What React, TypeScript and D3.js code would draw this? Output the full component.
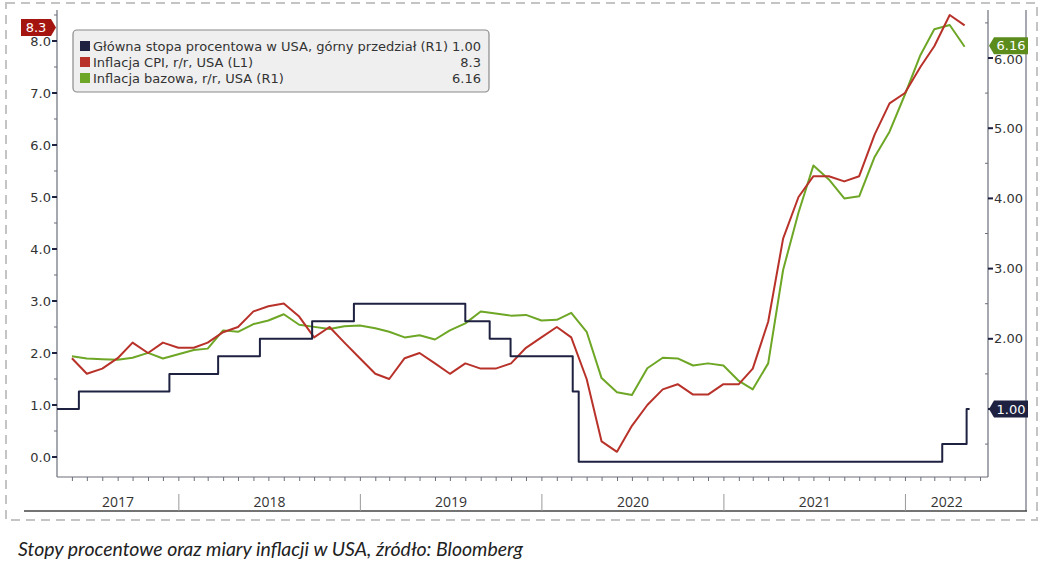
import React from "react";
import * as d3 from "d3";

// ---- Data ----
const monthStart = "2017-05"; // first monthly observation (plotted at month end)
const cpiValues = [
  1.9, 1.6, 1.7, 1.9, 2.2, 2.0, 2.2, 2.1,
  2.1, 2.2, 2.4, 2.5, 2.8, 2.9, 2.95, 2.7, 2.3, 2.5, 2.2, 1.9,
  1.6, 1.5, 1.9, 2.0, 1.8, 1.6, 1.8, 1.7, 1.7, 1.8, 2.1, 2.3,
  2.5, 2.3, 1.5, 0.3, 0.1, 0.6, 1.0, 1.3, 1.4, 1.2, 1.2, 1.4,
  1.4, 1.7, 2.6, 4.2, 5.0, 5.4, 5.4, 5.3, 5.4, 6.2, 6.8, 7.0,
  7.5, 7.9, 8.5, 8.3,
];
const coreValues = [
  1.75, 1.72, 1.71, 1.70, 1.73, 1.80, 1.72, 1.78,
  1.84, 1.86, 2.12, 2.10, 2.21, 2.26, 2.35, 2.20, 2.17, 2.14, 2.18, 2.19,
  2.15, 2.10, 2.02, 2.05, 1.99, 2.12, 2.22, 2.39, 2.36, 2.33, 2.34, 2.26,
  2.27, 2.37, 2.10, 1.44, 1.24, 1.20, 1.58, 1.73, 1.72, 1.62, 1.65, 1.62,
  1.40, 1.28, 1.65, 2.98, 3.80, 4.47, 4.27, 4.00, 4.03, 4.59, 4.95, 5.48,
  6.04, 6.41, 6.47, 6.16,
];
const fedDates = [
  "2017-05-01", "2017-06-14", "2017-12-13", "2018-03-21", "2018-06-13",
  "2018-09-26", "2018-12-19", "2019-07-31", "2019-09-18", "2019-10-30",
  "2020-03-03", "2020-03-15", "2022-03-16", "2022-05-04", "2022-05-10",
];
const fedValues = [
  1.0, 1.25, 1.5, 1.75, 2.0, 2.25, 2.5, 2.25, 2.0, 1.75, 1.25, 0.25, 0.5, 1.0, 1.0,
];
const leftTicks = [0, 1, 2, 3, 4, 5, 6, 7, 8];
const leftMinor = [0.5, 1.5, 2.5, 3.5, 4.5, 5.5, 6.5, 7.5, 8.5];
const rightTicks = [1, 2, 3, 4, 5, 6];
const rightLabelled = [2, 3, 4, 5, 6];
const rightMinor = [0.5, 1.5, 2.5, 3.5, 4.5, 5.5, 6.5];
const years = ["2017", "2018", "2019", "2020", "2021", "2022"];
const legendLabels = [
  "Główna stopa procentowa w USA, górny przedział (R1)",
  "Inflacja CPI, r/r, USA (L1)",
  "Inflacja bazowa, r/r, USA (R1)",
];
const legendValues = ["1.00", "8.3", "6.16"];
const caption = "Stopy procentowe oraz miary inflacji w USA, źródło: Bloomberg";

// ---- Styles ----
const NAVY = "#1e2240";
const RED = "#b8322a";
const GREEN = "#6ea626";
const AXIS = "#6b6f7a";
const TXT = "#333";

const W = 1043;
const H = 564;
const PL = 57, PR = 988, PT = 10, PB = 477;

export default function App() {
  const parseDay = d3.timeParse("%Y-%m-%d");
  const start = d3.timeParse("%Y-%m")(monthStart)!;
  const monthDates = cpiValues.map((_, i) => d3.timeDay.offset(d3.timeMonth.offset(start, i + 1), -1));

  const x = d3.scaleTime()
    .domain([parseDay("2017-05-01")!, parseDay("2022-06-16")!])
    .range([PL, PR]);
  const yL = d3.scaleLinear().domain([0, 8]).range([457, 41]);
  const yR = d3.scaleLinear().domain([1, 6]).range([409, 58]);

  const lineL = d3.line<number>().x((_, i) => x(monthDates[i])).y((d) => yL(d));
  const lineR = d3.line<number>().x((_, i) => x(monthDates[i])).y((d) => yR(d));
  const fedPts = fedDates.map((d, i) => [x(parseDay(d)!), yR(fedValues[i])] as [number, number]);
  const fedLine = d3.line().curve(d3.curveStepAfter)(fedPts) || "";

  const monthTicks = d3.timeMonth.range(d3.timeMonth.offset(x.domain()[0], 1), x.domain()[1]);
  const yearBounds = years.map((y) => parseDay(`${y}-01-01`)!);
  const yearEdges = [PL, ...yearBounds.slice(1).map((d) => x(d)), PR];

  const badge = (cx: number, cy: number, text: string, fill: string, dir: "left" | "right", w: number) => {
    const h = 17;
    const a = 5;
    let l: number, r: number, path: string;
    if (dir === "right") {
      r = cx - a;
      l = r - w;
      path = `M${l},${cy - h / 2}H${r}L${cx},${cy}L${r},${cy + h / 2}H${l}Z`;
    } else {
      l = cx + a;
      r = l + w;
      path = `M${r},${cy - h / 2}H${l}L${cx},${cy}L${l},${cy + h / 2}H${r}Z`;
    }
    return (
      <g>
        <path d={path} fill={fill} />
        <text x={(l + r) / 2} y={cy + 4.5} textAnchor="middle" fill="#fff" fontSize={13} fontFamily="DejaVu Sans">{text}</text>
      </g>
    );
  };

  const legendColors = [NAVY, RED, GREEN];

  return (
    <svg width={W} height={H} style={{ position: "absolute", left: 0, top: 0, background: "#fff" }}>
      <rect x={0} y={0} width={W} height={H} fill="#fff" />
      {/* dashed frame */}
      <rect x={6} y={3} width={1031} height={517} fill="none" stroke="#c4c4c4" strokeWidth={2} strokeDasharray="9,6" />

      <defs>
        <clipPath id="plot">
          <rect x={PL} y={PT} width={PR - PL} height={PB - PT} />
        </clipPath>
      </defs>

      {/* axes */}
      <line x1={PL} y1={PT} x2={PL} y2={PB} stroke={AXIS} strokeWidth={1.2} />
      <line x1={PR} y1={PT} x2={PR} y2={PB} stroke={AXIS} strokeWidth={1.2} />
      <line x1={PL} y1={PB} x2={PR} y2={PB} stroke={AXIS} strokeWidth={1.2} />
      <line x1={1026} y1={PT} x2={1026} y2={511} stroke={AXIS} strokeWidth={1.2} />
      <line x1={24} y1={511} x2={1027} y2={511} stroke="#444" strokeWidth={1.5} />

      {/* left ticks */}
      {leftTicks.map((t) => (
        <g key={"l" + t}>
          <line x1={PL - 5} x2={PL} y1={yL(t)} y2={yL(t)} stroke={NAVY} strokeWidth={2} />
          <text x={PL - 6} y={yL(t) + 4.5} textAnchor="end" fontSize={13} fontFamily="DejaVu Sans" fill={TXT}>{t.toFixed(1)}</text>
        </g>
      ))}
      {leftMinor.map((t) => (
        <line key={"lm" + t} x1={PL - 3} x2={PL} y1={yL(t)} y2={yL(t)} stroke={AXIS} strokeWidth={1} />
      ))}

      {/* right ticks */}
      {rightTicks.map((t) => (
        <line key={"r" + t} x1={PR} x2={PR + 5} y1={yR(t)} y2={yR(t)} stroke={NAVY} strokeWidth={2} />
      ))}
      {rightLabelled.map((t) => (
        <text key={"rl" + t} x={PR + 6} y={yR(t) + (t === 6 ? 6 : 4.5)} textAnchor="start" fontSize={13} fontFamily="DejaVu Sans" fill={TXT}>{t.toFixed(2)}</text>
      ))}
      {rightMinor.map((t) => (
        <line key={"rm" + t} x1={PR - 3} x2={PR} y1={yR(t)} y2={yR(t)} stroke={AXIS} strokeWidth={1} />
      ))}

      {/* month ticks */}
      {monthTicks.map((d, i) => (
        <line key={"m" + i} x1={x(d)} x2={x(d)} y1={PB} y2={PB + 4} stroke={AXIS} strokeWidth={1} />
      ))}

      {/* year separators and labels */}
      {yearBounds.slice(1).map((d, i) => (
        <line key={"ys" + i} x1={x(d)} x2={x(d)} y1={494} y2={511} stroke="#999" strokeWidth={1} />
      ))}
      {years.map((y, i) => (
        <text key={"yl" + y} x={(yearEdges[i] + yearEdges[i + 1]) / 2} y={507} textAnchor="middle" fontSize={14} fontFamily="Open Sans" fill={TXT}>{y}</text>
      ))}

      {/* series */}
      <g clipPath="url(#plot)" fill="none" strokeWidth={2} strokeLinejoin="round">
        <path d={lineR(coreValues) || ""} stroke={GREEN} />
        <path d={lineL(cpiValues) || ""} stroke={RED} />
        <path d={fedLine} stroke={NAVY} />
      </g>

      {/* legend */}
      <rect x={73} y={30} width={416} height={62} rx={4} fill="#efefef" stroke="#8a8a8a" strokeWidth={1.2} />
      {legendLabels.map((l, i) => (
        <g key={"lg" + i}>
          <rect x={80} y={41 + i * 16} width={10} height={10} fill={legendColors[i]} />
          <text x={93} y={51 + i * 16} fontSize={13} fontFamily="DejaVu Sans" fill={TXT}>{l}</text>
          <text x={481} y={51 + i * 16} textAnchor="end" fontSize={13} fontFamily="DejaVu Sans" fill={TXT}>{legendValues[i]}</text>
        </g>
      ))}

      {/* value badges */}
      {badge(PL - 1, yL(8.3) + 2, "8.3", "#a5150f", "right", 30)}
      {badge(PR + 1, yR(6.16) - 1, "6.16", "#5b8c1c", "left", 34)}
      {badge(PR + 1, yR(1.0), "1.00", NAVY, "left", 34)}

      {/* caption */}
      <text x={18} y={556} fontSize={18.5} fontStyle="italic" fontFamily="Lato" fill="#222" textLength={505} lengthAdjust="spacingAndGlyphs">{caption}</text>
    </svg>
  );
}
